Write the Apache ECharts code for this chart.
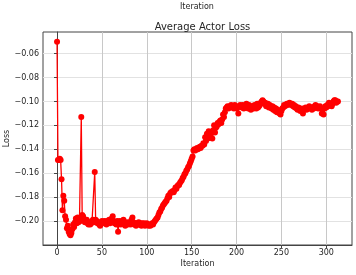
<!DOCTYPE html>
<html>
<head>
<meta charset="utf-8">
<script src="https://cdn.jsdelivr.net/npm/echarts@6/dist/echarts.min.js"></script>
<style>
html,body{margin:0;padding:0;background:#fff;}
#chart{width:356px;height:275px;}
</style>
</head>
<body>
<div id="chart"></div>
<script>
const chartTitle = "Average Actor Loss";
const xLabel = "Iteration";
const yLabel = "Loss";
const xTicks = [0, 50, 100, 150, 200, 250, 300];
const yTicks = [-0.20, -0.18, -0.16, -0.14, -0.12, -0.10, -0.08, -0.06];
const xRange = [-15.65, 328.65];
const yRange = [-0.2201, -0.0419];

// Average actor loss per iteration (index = iteration)
const lossPart1 = [
-0.050,-0.149,-0.149,-0.148,-0.149,-0.165,-0.191,-0.179,-0.183,-0.196,
-0.199,-0.206,-0.204,-0.209,-0.211,-0.212,-0.210,-0.207,-0.203,-0.205,
-0.201,-0.198,-0.202,-0.197,-0.201,-0.199,-0.200,-0.113,-0.195,-0.196,
-0.199,-0.201,-0.200,-0.199,-0.202,-0.203,-0.201,-0.203,-0.202,-0.200,
-0.199,-0.201,-0.159,-0.199,-0.200,-0.202,-0.201,-0.203,-0.204,-0.202,
-0.200,-0.201,-0.202,-0.200,-0.201,-0.203,-0.200,-0.201,-0.199,-0.202,
-0.200,-0.198,-0.196,-0.200,-0.202,-0.201,-0.203,-0.200,-0.209,-0.202,
-0.200,-0.203,-0.201,-0.202,-0.199,-0.203,-0.204,-0.202,-0.201,-0.203,
-0.202,-0.201,-0.203,-0.199,-0.197,-0.201,-0.203,-0.202,-0.204,-0.202,
-0.203,-0.201,-0.203,-0.202,-0.204,-0.202,-0.203,-0.202,-0.204,-0.203
];
const lossPart2 = [
-0.202,-0.203,-0.204,-0.203,-0.204,-0.203,-0.202,-0.203,-0.201,-0.200,
-0.199,-0.198,-0.197,-0.195,-0.193,-0.192,-0.190,-0.189,-0.187,-0.186,
-0.185,-0.184,-0.183,-0.181,-0.179,-0.180,-0.177,-0.176,-0.176,-0.175,
-0.176,-0.174,-0.172,-0.173,-0.171,-0.170,-0.170,-0.168,-0.167,-0.166,
-0.164,-0.163,-0.161,-0.160,-0.158,-0.157,-0.155,-0.154,-0.152,-0.150,
-0.148,-0.146,-0.141,-0.140,-0.141,-0.140,-0.139,-0.140,-0.139,-0.138,
-0.139,-0.137,-0.137,-0.135,-0.136,-0.130,-0.133,-0.127,-0.131,-0.125,
-0.130,-0.128,-0.126,-0.131,-0.124,-0.120,-0.126,-0.122,-0.121,-0.118,
-0.119,-0.117,-0.116,-0.118,-0.115,-0.111,-0.113,-0.109,-0.106,-0.105,
-0.104,-0.106,-0.105,-0.104,-0.103,-0.105,-0.104,-0.106,-0.103,-0.104
];
const lossPart3 = [
-0.106,-0.105,-0.110,-0.104,-0.103,-0.104,-0.105,-0.103,-0.106,-0.104,
-0.105,-0.102,-0.104,-0.106,-0.103,-0.105,-0.107,-0.104,-0.105,-0.106,
-0.103,-0.104,-0.106,-0.102,-0.105,-0.104,-0.103,-0.101,-0.100,-0.099,
-0.100,-0.102,-0.101,-0.104,-0.103,-0.102,-0.105,-0.103,-0.104,-0.106,
-0.104,-0.107,-0.105,-0.108,-0.106,-0.109,-0.107,-0.108,-0.110,-0.111,
-0.108,-0.106,-0.105,-0.103,-0.104,-0.103,-0.102,-0.103,-0.102,-0.101,
-0.102,-0.103,-0.102,-0.104,-0.103,-0.105,-0.104,-0.106,-0.107,-0.105,
-0.106,-0.108,-0.107,-0.106,-0.110,-0.107,-0.106,-0.105,-0.107,-0.106,
-0.105,-0.104,-0.106,-0.105,-0.107,-0.105,-0.106,-0.104,-0.103,-0.105,
-0.104,-0.106,-0.105,-0.104,-0.106,-0.110,-0.107,-0.111,-0.106,-0.104,
-0.105,-0.103,-0.104,-0.101,-0.103,-0.102,-0.104,-0.102,-0.100,-0.099,
-0.099,-0.101,-0.100,-0.100
];
const lossValues = lossPart1.concat(lossPart2, lossPart3);
const seriesData = lossValues.map((v, i) => [i, v]);

const fontFamily = "DejaVu Sans";
const textColor = "#262626";
const fmtY = v => (v < 0 ? "\u2212" : "") + Math.abs(v).toFixed(2);

const chart = echarts.init(document.getElementById('chart'), null, {renderer: 'canvas'});
chart.setOption({
  animation: false,
  backgroundColor: '#ffffff',
  title: {
    text: chartTitle,
    left: 197.5,
    textAlign: 'center',
    top: 17,
    textStyle: {fontFamily, fontSize: 10, fontWeight: 'normal', color: textColor}
  },
  graphic: [{
    type: 'text', left: 180, top: 3,
    style: {text: xLabel, fontFamily, fontSize: 8, fill: textColor}
  }],
  grid: {left: 43, right: 4, top: 32, bottom: 30, containLabel: false, outerBoundsMode: 'none',
    show: true, borderColor: '#444', borderWidth: 1, backgroundColor: 'transparent'},
  xAxis: {
    type: 'value', min: xRange[0], max: xRange[1],
    name: xLabel, nameLocation: 'middle', nameGap: 15, nameMoveOverlap: false,
    nameTextStyle: {fontFamily, fontSize: 8, color: textColor},
    axisLine: {show: true, lineStyle: {color: '#444', width: 1}},
    axisTick: {show: true, inside: false, length: 3, customValues: xTicks, lineStyle: {color: '#444'}},
    axisLabel: {customValues: xTicks, fontFamily, fontSize: 8, color: textColor, margin: 4},
    splitLine: {show: true, lineStyle: {color: '#c8c8c8', width: 1}}
  },
  yAxis: {
    type: 'value', min: yRange[0], max: yRange[1],
    name: yLabel, nameLocation: 'middle', nameGap: 32, nameRotate: 90, nameMoveOverlap: false,
    nameTextStyle: {fontFamily, fontSize: 8, color: textColor},
    axisLine: {show: true, lineStyle: {color: '#444', width: 1}},
    axisTick: {show: true, inside: false, length: 3, customValues: yTicks, lineStyle: {color: '#444'}},
    axisLabel: {customValues: yTicks, formatter: fmtY, fontFamily, fontSize: 8, color: textColor, margin: 4},
    splitLine: {show: true, lineStyle: {color: '#e2e2e2', width: 1}}
  },
  series: [{
    type: 'line',
    data: seriesData,
    symbol: 'circle',
    symbolSize: 6,
    showAllSymbol: true,
    lineStyle: {color: '#ff0000', width: 1.3},
    itemStyle: {color: '#ff0000'},
    z: 3
  }]
});
</script>
</body>
</html>
